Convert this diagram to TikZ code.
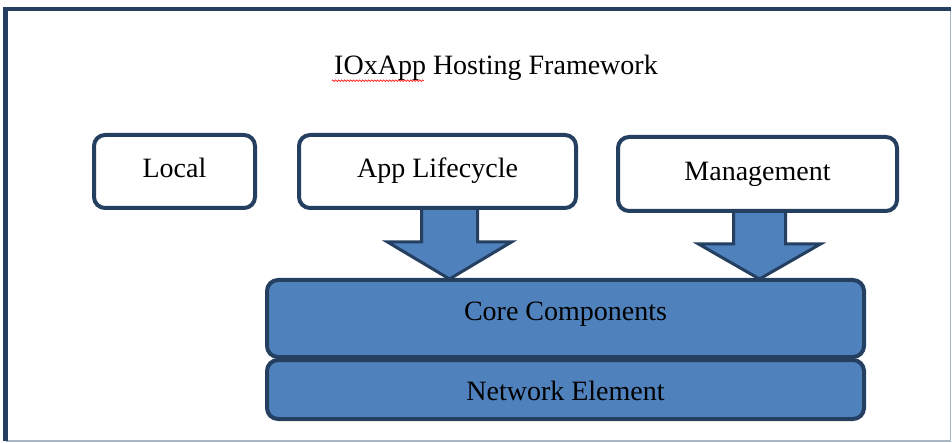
\documentclass[tikz,border=0pt]{standalone}
\usepackage{fontspec}
\setmainfont{Liberation Serif}
\usetikzlibrary{calc,backgrounds,decorations.pathmorphing}

\definecolor{boxline}{HTML}{243F60}
\definecolor{boxfill}{HTML}{4F81BD}
\definecolor{frameedge}{HTML}{A9B6C4}

\begin{document}
\begin{tikzpicture}[x = 1pt, y = -1pt,
        tag/.style = {draw = boxline, line width = 4pt, rounded corners = 11pt,
            fill = white, inner sep = 0pt, text height = 19pt, text depth = 6pt,
            font = \fontsize{28}{30}\selectfont},
        layer/.style = {tag, fill = boxfill},
        blockarrow/.style = {draw = boxline, line width = 3pt, fill = boxfill, line join = miter}]
        \useasboundingbox (0, 0) rectangle (952, 443);

        % frame
        \draw[frameedge, line width = 1.5pt] (950.5, 9) -- (950.5, 441) -- (5.5, 441);
        \draw[boxline, line width = 4.5pt] (5.5, 441) -- (5.5, 9) -- (951, 9);

        \path (496, 68) node (title) {\fontsize{28}{30}\selectfont IOxApp Hosting Framework};
        \draw[red, line width = 0.6pt, decorate,
            decoration = {snake, amplitude = 0.8pt, segment length = 3pt}]
            ($(title.base west) + (1, 6)$) -- ($(title.base west) + (93, 6)$);

        % upper row
        \node[tag, minimum width = 161pt, minimum height = 73pt] (local) at (174.5, 171.5) {Local};
        \node[tag, minimum width = 277pt, minimum height = 73pt] (life) at (437.5, 171.5) {App Lifecycle};
        \node[tag, minimum width = 279pt, minimum height = 74pt] (mgmt) at (757.5, 174) {Management};

        % lower layers
        \node[layer, minimum width = 597pt, minimum height = 77pt, text depth = 16pt] (core) at (565.5, 318.5) {Core Components};
        \node[layer, minimum width = 597pt, minimum height = 59pt, text height = 25pt, text depth = 4pt] (net) at (565.5, 389.5) {Network Element};

        % arrows
        \coordinate (lt) at ([xshift = 12pt] life.south);
        \coordinate (lb) at (core.north -| lt);
        \coordinate (mt) at ([xshift = 2pt] mgmt.south);
        \coordinate (mb) at (core.north -| mt);
        \begin{scope}[on background layer]
            \draw[blockarrow] ($(lt) + (-28, -3)$) -- ($(lt) + (28, -3)$) -- ($(lb) + (28, -36)$)
                -- ($(lb) + (62, -36)$) -- ($(lb) + (0, 1)$) -- ($(lb) + (-62, -36)$)
                -- ($(lb) + (-28, -36)$) -- cycle;
            \draw[blockarrow] ($(mt) + (-26, -3)$) -- ($(mt) + (26, -3)$) -- ($(mb) + (26, -34)$)
                -- ($(mb) + (61, -34)$) -- ($(mb) + (0, 1)$) -- ($(mb) + (-61, -34)$)
                -- ($(mb) + (-26, -34)$) -- cycle;
        \end{scope}
\end{tikzpicture}
\end{document}
